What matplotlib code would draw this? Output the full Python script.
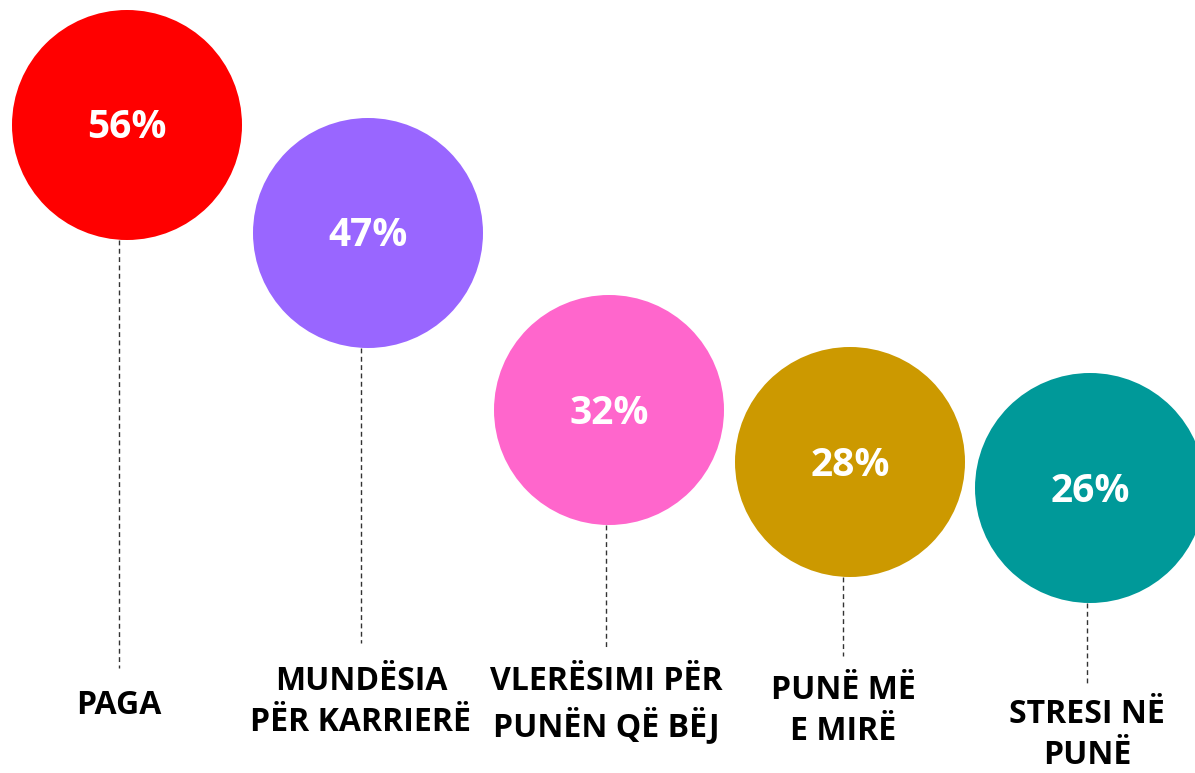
import numpy as np
import matplotlib
matplotlib.use('Agg')
from matplotlib import pyplot as plt
from matplotlib.patches import Circle

# Data ------------------------------------------------
labels = ['PAGA', 'MUNDËSIA\nPËR KARRIERË', 'VLERËSIMI PËR\nPUNËN QË BËJ',
          'PUNË MË\nE MIRË', 'STRESI NË\nPUNË']
values = [56, 47, 32, 28, 26]
colors = ['#FF0000', '#9966FF', '#FF66CC', '#CC9900', '#009999']

# Layout (pixel coordinates, y downwards) -------------
cx = [127, 368, 609, 850, 1090]      # circle centres
cy = [125, 233, 410, 462, 488]
rad = 115
lx = [119, 361, 606, 843, 1087]      # dotted leader x
ly_end = [668, 643, 648, 656, 684]   # dotted leader end
ty = [705, 702, 705, 711, 735]       # label centres

plt.rcParams['font.family'] = ['Open Sans', 'DejaVu Sans']

fig = plt.figure(figsize=(11.95, 7.73), dpi=100)
ax = fig.add_axes([0, 0, 1, 1])
ax.set_xlim(0, 1195)
ax.set_ylim(773, 0)
ax.set_aspect('equal')
ax.axis('off')

for i in range(len(values)):
    ax.plot([lx[i], lx[i]], [cy[i] + rad, ly_end[i]], color='#333333',
            lw=1, linestyle=(0, (3.5, 2.5)), zorder=1)
    ax.add_patch(Circle((cx[i], cy[i]), rad, color=colors[i], zorder=2, lw=0))
    ax.text(cx[i], cy[i] + 3, f'{values[i]}%', color='white', fontsize=28,
            fontweight='bold', ha='center', va='center', zorder=3)
    ax.text(lx[i], ty[i], labels[i], color='black', fontsize=23,
            fontweight='bold', ha='center', va='center', linespacing=1.32,
            zorder=3)

plt.savefig('out.png', dpi=100)
